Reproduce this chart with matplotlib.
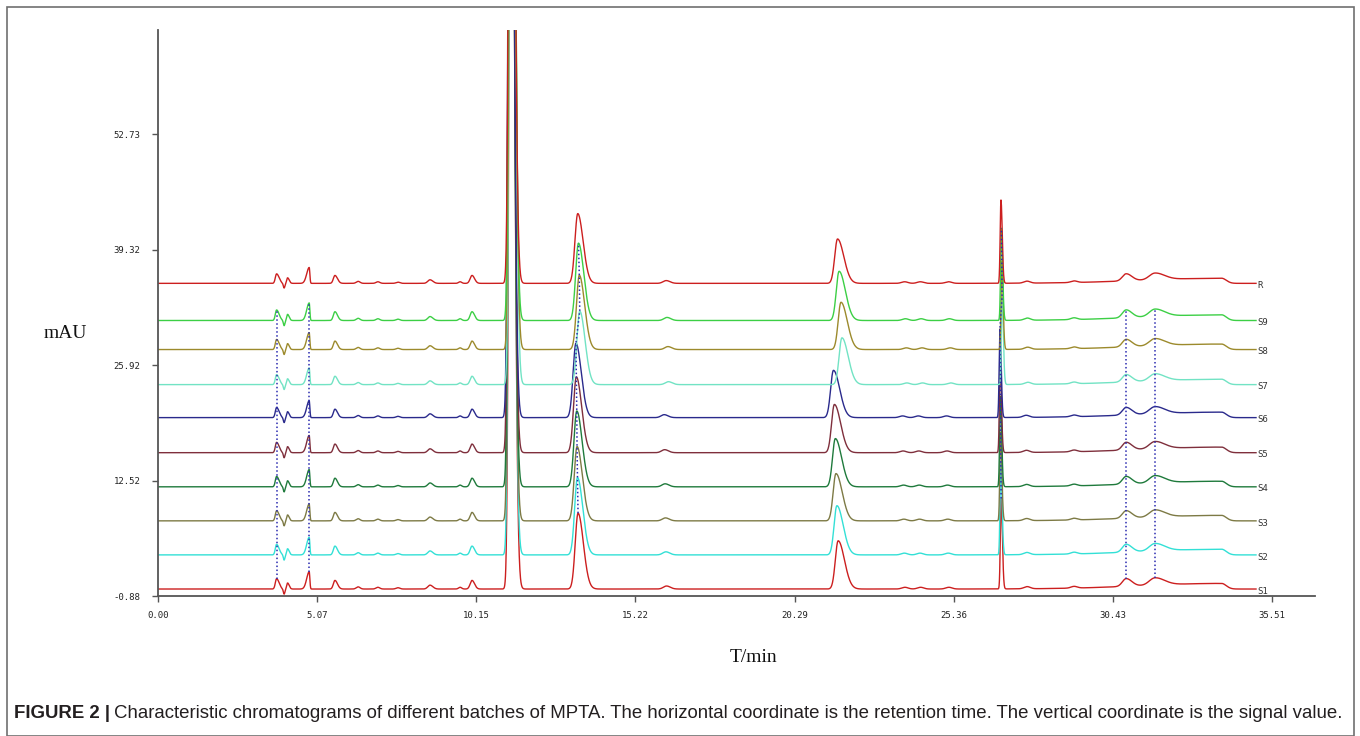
import numpy as np
import matplotlib
matplotlib.use("Agg")
import matplotlib.pyplot as plt
from matplotlib.patches import Rectangle

# runs, bottom to top
names = ['S1', 'S2', 'S3', 'S4', 'S5', 'S6', 'S7', 'S8', 'S9', 'R']
offsets = [-0.07, 3.89, 7.84, 11.79, 15.75, 19.82, 23.65, 27.72, 31.09, 35.40]
colors = ['#cc1f1f', '#33e0d6', '#7d7a45', '#1f7a3c', '#7f2f3c',
          '#2a2a8c', '#72e3c4', '#9c8a2c', '#3ccf45', '#cc1f1f']
# retention time drift of each run (min, at the 21.66 min peak)
rt_drift = [0.02, -0.02, -0.05, -0.07, -0.10, -0.13, 0.14, 0.11, 0.05, 0.0]
# response factor of each run
resp = [1.0, 1.02, 0.98, 1.0, 1.0, 0.98, 0.97, 0.98, 1.02, 0.92]

# peak table: retention time (min), height (mAU), left / right half widths,
# and how much of the run drift each peak shows
pk_rt = [3.78, 4.02, 4.13, 4.82, 5.64, 6.38, 7.01, 7.65, 8.67, 9.63, 10.01,
         11.25, 13.38, 16.2, 21.66, 23.8, 24.3, 25.2, 26.87, 27.7, 29.2,
         30.86, 31.78, 33.9]
pk_h = [1.2, -0.6, 0.7, 2.0, 1.0, 0.25, 0.2, 0.15, 0.45, 0.2, 1.0,
        120.0, 8.8, 0.35, 5.6, 0.2, 0.2, 0.2, 10.5, 0.25, 0.2,
        0.9, 0.85, 0.65]
pk_wl = [0.04, 0.025, 0.03, 0.08, 0.05, 0.06, 0.06, 0.06, 0.07, 0.05, 0.06,
         0.06, 0.09, 0.10, 0.09, 0.10, 0.10, 0.10, 0.025, 0.10, 0.10,
         0.12, 0.18, 2.5]
pk_wr = [0.08, 0.025, 0.05, 0.02, 0.08, 0.06, 0.06, 0.06, 0.09, 0.05, 0.08,
         0.10, 0.17, 0.12, 0.20, 0.10, 0.10, 0.10, 0.04, 0.10, 0.10,
         0.18, 0.30, 0.15]
pk_drift = [0, 0, 0, 0, 0, 0, 0, 0, 0, 0, 0,
            0.15, 0.45, 0.5, 1.0, 0.5, 0.5, 0.5, 0.25, 0.2, 0,
            0, 0, 0]
# peaks joined by the dotted lines
marked = [0, 3, 12, 18, 21, 22]

xticks = [0.00, 5.07, 10.15, 15.22, 20.29, 25.36, 30.43, 35.51]
yticks = [-0.88, 12.52, 25.92, 39.32, 52.73]

t = np.linspace(0, 35.0, 7001)


def signal(x, i):
    y = np.full_like(np.asarray(x, dtype=float), offsets[i])
    for rt, h, wl, wr, d in zip(pk_rt, pk_h, pk_wl, pk_wr, pk_drift):
        c = rt + d * rt_drift[i]
        w = np.where(x < c, wl, wr)
        y = y + h * resp[i] * np.exp(-0.5 * ((x - c) / w) ** 2)
    return y


fig = plt.figure(figsize=(13.6, 7.36), dpi=100)
ax = fig.add_axes([158 / 1360, 1 - 596 / 736, (1315 - 158) / 1360, (596 - 30) / 736])

for i, name in enumerate(names):
    y = signal(t, i)
    ax.plot(t, y, color=colors[i], lw=1.0, zorder=2)
    ax.text(t[-1] + 0.03, y[-1] - 0.25, name, fontsize=6.5, family='DejaVu Sans Mono',
            color='#333333', va='center', ha='left')

for k in marked:
    xs = np.array([pk_rt[k] + pk_drift[k] * rt_drift[i] for i in range(9)])
    ys = np.array([signal(np.array([xs[i]]), i)[0] for i in range(9)])
    ax.plot(xs, ys, color='#2b2bb0', lw=1.1, ls=(0, (1, 1.6)), zorder=3)

ax.set_xlim(0, 36.88)
ax.set_ylim(-0.88, 64.8)
ax.set_xticks(xticks)
ax.set_xticklabels([f'{v:.2f}' for v in xticks])
ax.set_yticks(yticks)
ax.set_yticklabels([f'{v:.2f}' for v in yticks])
for s in ['top', 'right']:
    ax.spines[s].set_visible(False)
for s in ['left', 'bottom']:
    ax.spines[s].set_color('#555555')
    ax.spines[s].set_linewidth(1.3)
ax.tick_params(axis='both', direction='out', length=4.5, width=1.0, color='#555555',
               labelsize=6.5, labelcolor='#222222')
ax.tick_params(axis='y', pad=8)
ax.tick_params(axis='x', pad=6)
for lab in ax.get_xticklabels() + ax.get_yticklabels():
    lab.set_family('DejaVu Sans Mono')

fig.text(65 / 1360, 1 - 333 / 736, 'mAU', family='Liberation Serif', fontsize=14,
         ha='center', va='center', color='#111111')
fig.text(754 / 1360, 1 - 658 / 736, 'T/min', family='Liberation Serif', fontsize=14,
         ha='center', va='center', color='#111111')

# frame round the whole figure
fig.patches.append(Rectangle((7 / 1360, 0.5 / 736), 1347 / 1360, 729 / 736,
                             transform=fig.transFigure, fill=False,
                             edgecolor='#6f6f6f', lw=1.2))

# caption, sized to span the frame
cap_font = ['Liberation Sans Narrow', 'Liberation Sans']
rest = ('Characteristic chromatograms of different batches of MPTA. The horizontal '
        'coordinate is the retention time. The vertical coordinate is the signal value.')
size = 11
r = fig.canvas.get_renderer()
for _ in range(2):
    t1 = fig.text(14 / 1360, 1 - 713 / 736, 'FIGURE 2 |', family=cap_font,
                  fontweight='bold', fontsize=size, va='center', color='#231f20')
    b1 = t1.get_window_extent(r)
    t2 = fig.text((b1.x1 + 4) / 1360, 1 - 713 / 736, rest, family=cap_font,
                  fontsize=size, va='center', color='#231f20')
    b2 = t2.get_window_extent(r)
    width = b2.x1 - b1.x0
    t1.remove()
    t2.remove()
    size = size * (1331 / width)
t1 = fig.text(14 / 1360, 1 - 713 / 736, 'FIGURE 2 |', family=cap_font,
              fontweight='bold', fontsize=size, va='center', color='#231f20')
b1 = t1.get_window_extent(r)
fig.text((b1.x1 + 4) / 1360, 1 - 713 / 736, rest, family=cap_font,
         fontsize=size, va='center', color='#231f20')

fig.savefig('out.png', dpi=100)
